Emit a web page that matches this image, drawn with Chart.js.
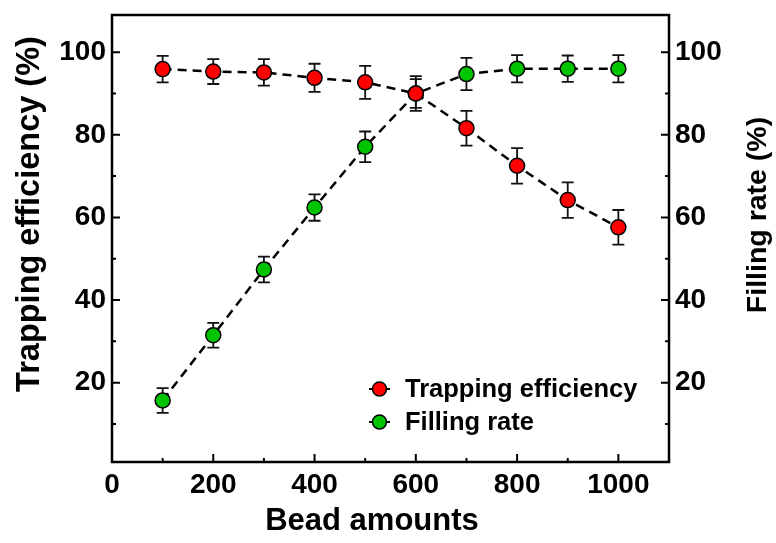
<!DOCTYPE html>
<html>
<head>
<meta charset="utf-8">
<script src="https://cdn.jsdelivr.net/npm/chart.js@4"></script>
<style>
  html, body { margin: 0; padding: 0; background: #fff; }
  #wrap { width: 776px; height: 543px; }
</style>
</head>
<body>
<div id="wrap"><canvas id="myChart" width="776" height="543"></canvas></div>
<script>
// values
const beads = [100, 200, 300, 400, 500, 600, 700, 800, 900, 1000]
const trapping = [95.9, 95.3, 95.1, 93.8, 92.7, 90.0, 81.6, 72.5, 64.2, 57.6]
const trappingErr = [3.2, 3.0, 3.2, 3.4, 4.0, 4.2, 4.2, 4.3, 4.3, 4.2]
const filling = [15.7, 31.5, 47.4, 62.4, 77.1, 90.0, 94.7, 96.0, 96.0, 96.0]
const fillingErr = [3.0, 3.0, 3.1, 3.2, 3.7, 3.5, 3.9, 3.3, 3.2, 3.3]

const xTicks = [0, 200, 400, 600, 800, 1000]
const xMinor = [100, 300, 500, 700, 900]
const yTicks = [20, 40, 60, 80, 100]
const yMinor = [10, 30, 50, 70, 90]

const seriesNames = ["Trapping efficiency", "Filling rate"]
const seriesColors = ["#ff0000", "#00c400"]
const errs = [trappingErr, fillingErr]

const FONT = "'Liberation Sans', Arial, sans-serif"

// error bars, inward ticks, frame, titles and legend
const extras = {
  id: 'extras',
  beforeDatasetsDraw(chart) {
    const ctx = chart.ctx
    const xs = chart.scales.x
    ctx.save()
    ctx.strokeStyle = '#111'
    ctx.lineWidth = 1.8
    chart.data.datasets.forEach((ds, i) => {
      const ys = chart.scales[ds.yAxisID]
      ds.data.forEach((p, j) => {
        const x = xs.getPixelForValue(p.x)
        const top = ys.getPixelForValue(p.y + errs[i][j])
        const bot = ys.getPixelForValue(p.y - errs[i][j])
        ctx.beginPath()
        ctx.moveTo(x, top); ctx.lineTo(x, bot)
        ctx.moveTo(x - 6, top); ctx.lineTo(x + 6, top)
        ctx.moveTo(x - 6, bot); ctx.lineTo(x + 6, bot)
        ctx.stroke()
      })
    })
    ctx.restore()
  },
  afterDraw(chart) {
    const ctx = chart.ctx
    const a = chart.chartArea
    const xs = chart.scales.x, yl = chart.scales.y, yr = chart.scales.y1
    ctx.save()
    ctx.strokeStyle = '#000'
    ctx.lineWidth = 2.5
    ctx.strokeRect(a.left, a.top, a.right - a.left, a.bottom - a.top)

    ctx.lineWidth = 2
    ctx.beginPath()
    xTicks.forEach(v => { const x = xs.getPixelForValue(v); ctx.moveTo(x, a.bottom); ctx.lineTo(x, a.bottom - 8) })
    xMinor.forEach(v => { const x = xs.getPixelForValue(v); ctx.moveTo(x, a.bottom); ctx.lineTo(x, a.bottom - 4) })
    yTicks.forEach(v => {
      const y = yl.getPixelForValue(v); ctx.moveTo(a.left, y); ctx.lineTo(a.left + 8, y)
      const y2 = yr.getPixelForValue(v); ctx.moveTo(a.right, y2); ctx.lineTo(a.right - 8, y2)
    })
    yMinor.forEach(v => {
      const y = yl.getPixelForValue(v); ctx.moveTo(a.left, y); ctx.lineTo(a.left + 4, y)
      const y2 = yr.getPixelForValue(v); ctx.moveTo(a.right, y2); ctx.lineTo(a.right - 4, y2)
    })
    ctx.stroke()

    // axis titles
    ctx.fillStyle = '#000'
    ctx.textAlign = 'center'
    ctx.textBaseline = 'middle'
    ctx.font = 'bold 31px ' + FONT
    ctx.fillText('Bead amounts', 372, 521)
    ctx.save()
    ctx.translate(30, 214)
    ctx.rotate(-Math.PI / 2)
    ctx.font = 'bold 32.5px ' + FONT
    ctx.fillText('Trapping efficiency (%)', 0, 0)
    ctx.restore()
    ctx.save()
    ctx.translate(758, 215)
    ctx.rotate(-Math.PI / 2)
    ctx.font = 'bold 28.5px ' + FONT
    ctx.fillText('Filling rate (%)', 0, 0)
    ctx.restore()

    // legend
    ctx.font = 'bold 25.5px ' + FONT
    ctx.textAlign = 'left'
    seriesNames.forEach((name, i) => {
      const y = 389 + i * 33
      ctx.strokeStyle = '#000'
      ctx.lineWidth = 2
      ctx.beginPath(); ctx.moveTo(369, y); ctx.lineTo(390, y); ctx.stroke()
      ctx.beginPath()
      ctx.arc(379.5, y, 7, 0, Math.PI * 2)
      ctx.fillStyle = seriesColors[i]
      ctx.fill()
      ctx.lineWidth = 1.5
      ctx.stroke()
      ctx.fillStyle = '#000'
      ctx.fillText(name, 405, y + 1)
    })
    ctx.restore()
  }
}

function lineSet(label, values, color, axis) {
  return {
    label: label,
    data: values,
    yAxisID: axis,
    borderColor: '#000',
    borderWidth: 2.5,
    borderDash: [9, 6],
    backgroundColor: color,
    pointBackgroundColor: color,
    pointBorderColor: '#000',
    pointBorderWidth: 1.5,
    pointRadius: 7.5,
    pointHoverRadius: 7.5,
    tension: 0,
    fill: false
  }
}

const tickFont = { family: FONT, size: 28, weight: 'bold', lineHeight: 1 }

function yAxis(pos, width) {
  return {
    position: pos,
    min: 0.8,
    max: 109,
    afterBuildTicks: s => { s.ticks = yTicks.map(v => ({ value: v })) },
    afterFit: s => { s.width = width; s.paddingTop = 0; s.paddingBottom = 0 },
    grid: { display: false, drawTicks: false },
    border: { display: false },
    ticks: { padding: 6, color: '#000', font: tickFont, callback: v => String(v) }
  }
}

new Chart("myChart", {
  type: "line",
  data: {
    labels: beads,
    datasets: [
      lineSet(seriesNames[0], trapping.map((v, i) => ({ x: beads[i], y: v })), seriesColors[0], 'y'),
      lineSet(seriesNames[1], filling.map((v, i) => ({ x: beads[i], y: v })), seriesColors[1], 'y1')
    ]
  },
  options: {
    responsive: false,
    animation: false,
    layout: { padding: { top: 15, left: 0, right: 0, bottom: 0 } },
    plugins: { legend: { display: false }, tooltip: { enabled: false } },
    scales: {
      x: {
        type: 'linear',
        min: 0,
        max: 1100,
        afterBuildTicks: s => { s.ticks = xTicks.map(v => ({ value: v })) },
        afterFit: s => { s.height = 81; s.paddingLeft = 0; s.paddingRight = 0 },
        grid: { display: false, drawTicks: false },
        border: { display: false },
        ticks: { padding: 9, maxRotation: 0, autoSkip: false, color: '#000', font: tickFont, callback: v => String(v) }
      },
      y: yAxis('left', 112),
      y1: yAxis('right', 107)
    }
  },
  plugins: [extras]
})
</script>
</body>
</html>
